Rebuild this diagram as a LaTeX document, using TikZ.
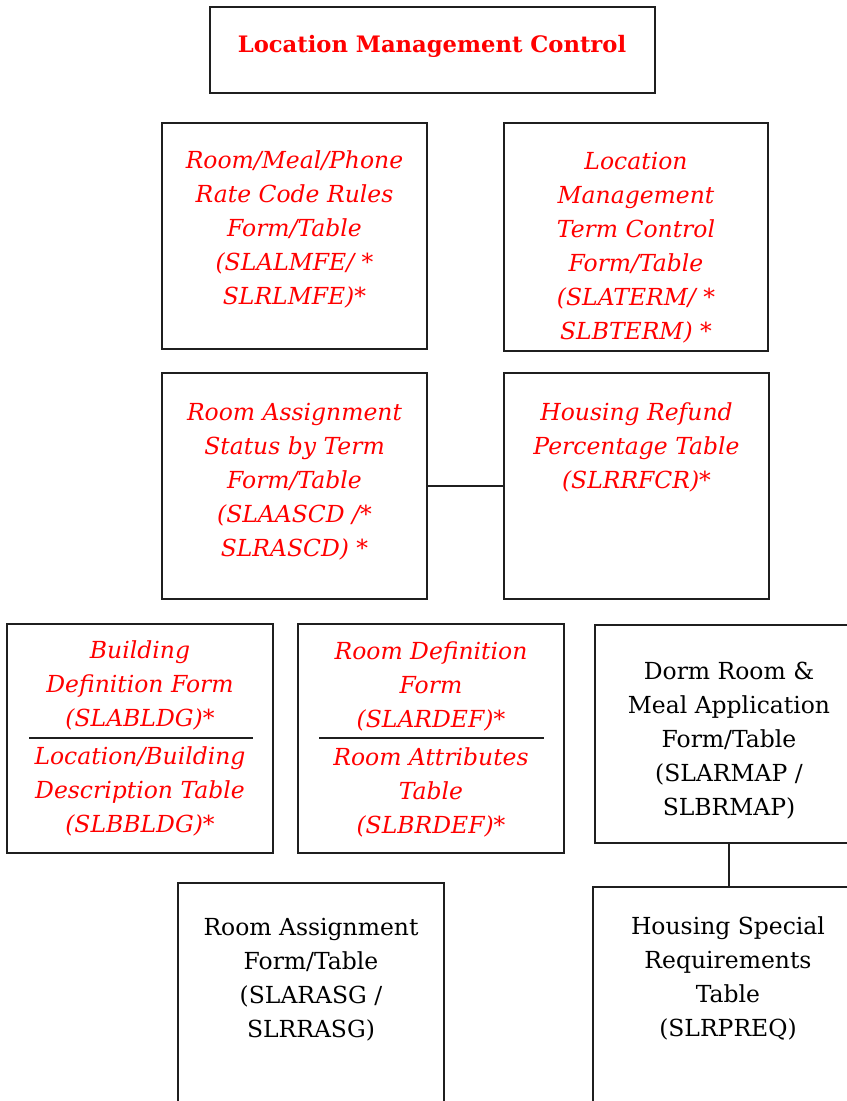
\documentclass[tikz,border=0pt]{standalone}
\usepackage{fontspec}
\setmainfont{DejaVu Serif}
\usetikzlibrary{fit}
\begin{document}
\begin{tikzpicture}[x=0.75pt,y=-0.75pt,
  box/.style={draw=black!88, line width=1.5pt, inner sep=0pt},
  redtxt/.style={text=red, align=center, inner sep=0pt, anchor=north,
    font=\fontsize{17.6}{25.5}\selectfont\itshape},
  blktxt/.style={text=black, align=center, inner sep=0pt, anchor=north,
    font=\fontsize{17.6}{25.5}\selectfont},
  titletxt/.style={text=red, inner sep=0pt,
    font=\fontsize{17}{20}\selectfont\bfseries},
  divider/.style={draw=black!88, line width=1.2pt},
  link/.style={draw=black!88, line width=1.3pt}]
\useasboundingbox (0,0) rectangle (847,1101);
\clip (0,0) rectangle (847,1101);

% title
\node[box, fit={(210,7) (655,93)}] (title) {};
\node[titletxt] (titlelbl) at (432,46) {Location Management Control};

% second row
\node[box, fit={(162,123) (427,349)}] (rates) {};
\node[redtxt] (rateslbl) at (294.5,144.7) {\strut Room/Meal/Phone\\Rate Code Rules\\Form/Table\\(SLALMFE/ *\\SLRLMFE)*};
\node[box, fit={(504,123) (768,351)}] (term) {};
\node[redtxt] (termlbl) at (636,145) {\strut Location\\Management\\Term Control\\Form/Table\\(SLATERM/ *\\SLBTERM) *};

% third row
\node[box, fit={(162,373) (427,599)}] (status) {};
\node[redtxt] (statuslbl) at (294.5,396) {\strut Room Assignment\\Status by Term\\Form/Table\\(SLAASCD /*\\SLRASCD) *};
\node[box, fit={(504,373) (769,599)}] (refund) {};
\node[redtxt] (refundlbl) at (636.5,396) {\strut Housing Refund\\Percentage Table\\(SLRRFCR)*};
\draw[link] (status) -- (refund);

% fourth row
\node[box, fit={(7,624) (273,853)}] (bldg) {};
\node[redtxt] (bldgtop) at (140,634) {\strut Building\\Definition Form\\(SLABLDG)*};
\draw[divider] (29,738) -- (253,738);
\node[redtxt] (bldgbot) at (140,740) {\strut Location/Building\\Description Table\\(SLBBLDG)*};

\node[box, fit={(298,624) (564,853)}] (rdef) {};
\node[redtxt] (rdeftop) at (431,635) {\strut Room Definition\\Form\\(SLARDEF)*};
\draw[divider] (319,738) -- (544,738);
\node[redtxt] (rdefbot) at (431,741) {\strut Room Attributes\\Table\\(SLBRDEF)*};

\node[box, fit={(595,625) (863,843)}] (rmap) {};
\node[blktxt] (rmaplbl) at (729,655) {\strut Dorm Room \&\\Meal Application\\Form/Table\\(SLARMAP /\\SLBRMAP)};

% bottom row
\node[box, fit={(178,883) (444,1120)}] (rasg) {};
\node[blktxt] (rasglbl) at (311,911) {\strut Room Assignment\\Form/Table\\(SLARASG /\\SLRRASG)};
\node[box, fit={(593,887) (863,1120)}] (preq) {};
\node[blktxt] (preqlbl) at (728,910) {\strut Housing Special\\Requirements\\Table\\(SLRPREQ)};
\draw[link] (rmap.south) -- (rmap.south |- preq.north);
\end{tikzpicture}
\end{document}
